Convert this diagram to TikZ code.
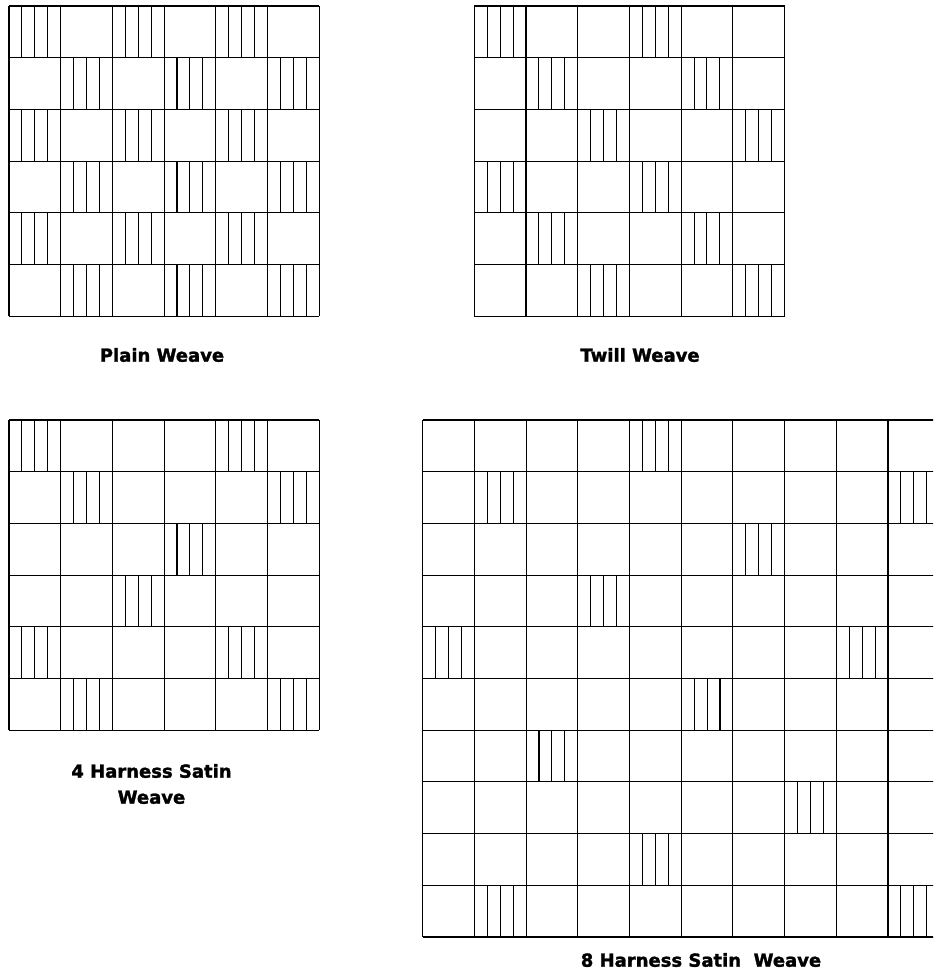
\documentclass[tikz,border=0pt]{standalone}
\usepackage{fontspec}
\setmainfont{DejaVu Sans}[BoldFeatures={FakeBold=1.6}]
\tikzset{
  gridline/.style={line width=0.8pt, black},
  hatchline/.style={line width=0.8pt, black},
  lbl/.style={font=\bfseries\fontsize{13.5}{19.5}\selectfont, inner sep=0pt, align=center}
}
\def\cw{51.7}
\newcommand\weavegrid[5]{%
  \begin{scope}[shift={(#1,#2)}]
    \foreach \c/\r in {#5} {
      \foreach \k in {1,2,3}
        \draw[hatchline] ({(\c+\k/4)*\cw},{\r*\cw}) -- ++(0,\cw);
    }
    \foreach \i in {0,...,#3}
      \draw[gridline] ({\i*\cw},0) -- ({\i*\cw},{#4*\cw});
    \foreach \j in {0,...,#4}
      \draw[gridline] (0,{\j*\cw}) -- ({#3*\cw},{\j*\cw});
  \end{scope}}
\begin{document}
\begin{tikzpicture}[x=0.75pt,y=-0.75pt]
  \useasboundingbox (0,0) rectangle (933,974);
  \clip (0,0) rectangle (933,974);
  \fill[white] (0,0) rectangle (933,974);
  % Plain weave
  \weavegrid{9}{6}{6}{6}{0/0,2/0,4/0,1/1,3/1,5/1,0/2,2/2,4/2,1/3,3/3,5/3,0/4,2/4,4/4,1/5,3/5,5/5}
  % Twill weave
  \weavegrid{474.3}{6}{6}{6}{0/0,3/0,1/1,4/1,2/2,5/2,0/3,3/3,1/4,4/4,2/5,5/5}
  % 4 harness satin
  \weavegrid{9}{420}{6}{6}{0/0,4/0,1/1,5/1,3/2,2/3,0/4,4/4,1/5,5/5}
  % 8 harness satin
  \weavegrid{422.7}{420}{10}{10}{4/0,1/1,9/1,6/2,3/3,0/4,8/4,5/5,2/6,7/7,4/8,1/9,9/9}
  % labels
  \node[lbl] (plain) at (162,355) {Plain Weave};
  \node[lbl] (twill) at (640,355) {Twill Weave};
  \node[lbl] (four) at (151.5,784) {4 Harness Satin\\Weave};
  \node[lbl] (eight) at (701,960) {8 Harness Satin\ \ Weave};
\end{tikzpicture}
\end{document}
